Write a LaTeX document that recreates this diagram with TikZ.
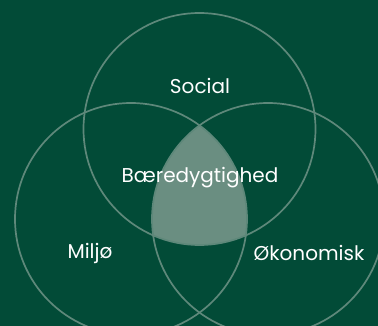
\documentclass[tikz,border=0pt]{standalone}
\usepackage{fontspec}
\setmainfont{Poppins}
\usepackage{tikz}
\definecolor{bggreen}{HTML}{024B37}
\definecolor{ringgreen}{HTML}{5E887A}
\definecolor{coregreen}{HTML}{6A8E81}
\tikzset{
	ring/.style={line width=1.7pt, color=ringgreen},
	lbl/.style={text=white, inner sep=0pt, font=\fontsize{20}{23}\selectfont}
}

\begin{document}
\begin{tikzpicture}[x=1pt, y=-1pt]
		%%%%% START %%%%%
		
		\fill[bggreen] (0, 0) rectangle (378, 326);
		\clip (0, 0) rectangle (378, 326);
		
		% common part
		\begin{scope}
			\clip (199.5, 129) circle (116pt);
			\clip (131, 219) circle (116pt);
			\fill[coregreen] (268, 219) circle (116pt);
		\end{scope}
		
		\draw[ring] (199.5, 129) circle (116pt);
		\draw[ring] (131, 219) circle (116pt);
		\draw[ring] (268, 219) circle (116pt);
		
		\node[lbl] (social) at (200, 86) {Social};
		\node[lbl] (core) at (200, 178) {Bæredygtighed};
		\node[lbl] (miljo) at (90, 253) {Miljø};
		\node[lbl] (okonomi) at (309, 253) {Økonomisk};
		
		%%%%% END %%%%%
\end{tikzpicture}
\end{document}
